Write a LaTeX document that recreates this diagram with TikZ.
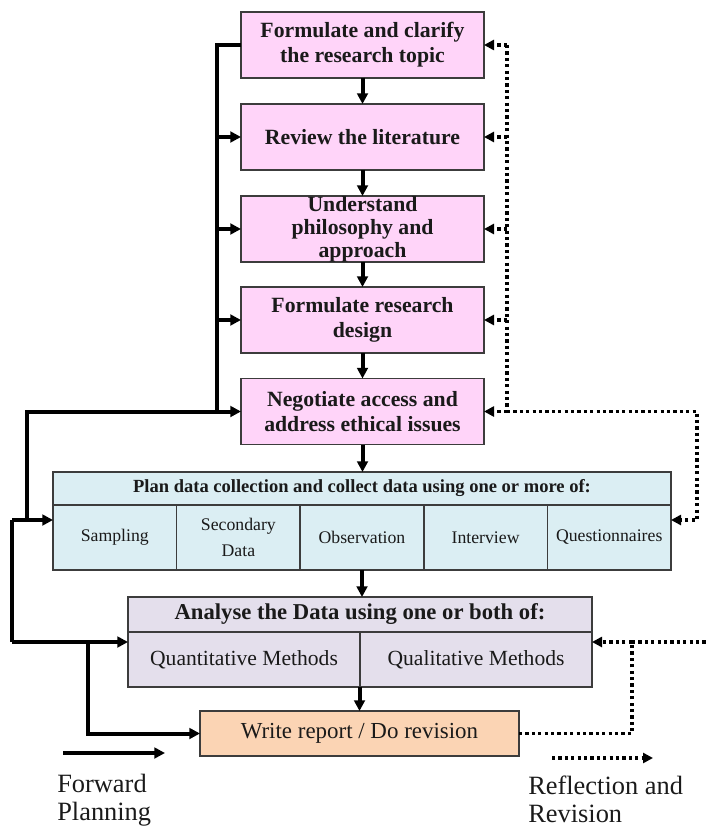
\documentclass[tikz,border=0pt]{standalone}
\usepackage{fontspec}
\setmainfont{Liberation Serif}
\usetikzlibrary{arrows.meta,positioning}
\definecolor{rschInk}{HTML}{1A1A1A}
\definecolor{rschLine}{HTML}{3C3C3C}
\definecolor{rschPink}{HTML}{FFD4F9}
\definecolor{rschBlue}{HTML}{DBEEF3}
\definecolor{rschLilac}{HTML}{E4DFEC}
\definecolor{rschPeach}{HTML}{FBD4B4}
\tikzset{
  every picture/.style={text=rschInk},
  rsch stage/.style={draw=rschLine, line width=1.1pt, fill=rschPink, align=center,
    minimum width=182.25pt, minimum height=49.5pt, inner sep=0pt, outer sep=0pt,
    font=\bfseries\fontsize{16.3}{18.6}\selectfont},
  rsch head/.style={draw=rschLine, line width=1.1pt, align=center,
    inner sep=0pt, outer sep=0pt},
  rsch cell/.style={draw=rschLine, line width=1.1pt, align=center,
    inner sep=0pt, outer sep=0pt},
  rsch forward/.style={draw=black, line width=3pt},
  rsch fwd arrow/.style={rsch forward, -{Triangle[length=8pt,width=8pt]}},
  rsch back/.style={draw=black, line width=2.8pt, dash pattern=on 2.4pt off 2.4pt},
  rsch back arrow/.style={rsch back, -{Triangle[length=7.5pt,width=7.5pt]}},
  rsch legend/.style={align=left, inner sep=0pt, anchor=north west,
    font=\fontsize{19.8}{21}\selectfont}
}

\begin{document}
\begin{tikzpicture}[x=0.75pt,y=-0.75pt]
  \useasboundingbox (0,0) rectangle (706,827);
  % research stages
  \node[rsch stage] (topic) at (362.5,45) {Formulate and clarify\\the research topic};
  \node[rsch stage] (lit) at (362.5,137) {Review the literature};
  \node[rsch stage, font=\bfseries\fontsize{16.3}{17.3}\selectfont] (phil) at (362.5,229) {Understand\\philosophy and\\approach};
  \node[rsch stage] (design) at (362.5,320) {Formulate research\\design};
  \node[rsch stage] (access) at (362.5,411.5) {Negotiate access and\\address ethical issues};
  % data collection
  \node[rsch head, fill=rschBlue, minimum width=463.5pt, minimum height=24.75pt,
    font=\bfseries\fontsize{13.9}{16}\selectfont] (plan) at (362,488.5)
    {Plan data collection and collect data using one or more of:};
  \tikzset{every node/.append style={rsch cell, fill=rschBlue, minimum width=92.7pt,
    minimum height=48.75pt, font=\fontsize{13.3}{20}\selectfont}}
  \node (samp) at (114.8,537.5) {Sampling};
  \node[right=0pt of samp] (secd) {Secondary\\Data};
  \node[right=0pt of secd] (obs) {Observation};
  \node[right=0pt of obs] (intv) {Interview};
  \node[right=0pt of intv] (quest) {Questionnaires};
  \tikzset{every node/.style={}}
  % analysis
  \node[rsch head, fill=rschLilac, minimum width=348pt, minimum height=26.25pt,
    font=\bfseries\fontsize{17}{19}\selectfont] (analyse) at (360,614.5)
    {Analyse the Data using one or both of:};
  \node[rsch cell, fill=rschLilac, minimum width=174pt, minimum height=41.25pt,
    font=\fontsize{16.2}{18}\selectfont] (quant) at (244,659.5) {Quantitative Methods};
  \node[rsch cell, fill=rschLilac, minimum width=174pt, minimum height=41.25pt,
    font=\fontsize{16.2}{18}\selectfont, right=0pt of quant] (qual) {Qualitative Methods};
  \node[rsch cell, fill=rschPeach, minimum width=239.25pt, minimum height=33.75pt,
    font=\fontsize{17.2}{19}\selectfont] (report) at (359.5,733.5) {Write report / Do revision};

  \coordinate (trunk) at (217,0);
  \coordinate (outer) at (27,0);
  \coordinate (planIn) at (12,520);
  \coordinate (anaIn) at (12,642);
  \coordinate (reportIn) at (88,0);
  \coordinate (backTrunk) at (507,0);
  \coordinate (backOuter) at (697,0);
  \coordinate (backLow) at (632,0);
  \coordinate (backEnd) at (706,642);

  % forward planning
  \foreach \a/\b in {topic/lit,lit/phil,phil/design,design/access}
    \draw[rsch fwd arrow] (\a) -- (\b);
  \draw[rsch fwd arrow] (access.south) -- (access.south |- plan.north);
  \draw[rsch fwd arrow] (obs.south) -- (obs.south |- analyse.north);
  \draw[rsch fwd arrow] (report.north |- quant.south) -- (report.north);
  \draw[rsch forward] (topic.west) -| (trunk |- access.west);
  \foreach \n in {lit,phil,design}
    \draw[rsch fwd arrow] (trunk |- \n.west) -- (\n.west);
  \draw[rsch fwd arrow] (outer |- planIn) |- (access.west);
  \draw[rsch forward] (planIn) -- (anaIn);
  \draw[rsch fwd arrow] (planIn) -- (planIn -| samp.west);
  \draw[rsch fwd arrow] (anaIn) -- (anaIn -| quant.west);
  \draw[rsch fwd arrow] (reportIn |- anaIn) |- (report.west);

  % reflection and revision
  \draw[rsch back] (backTrunk |- topic.east) -- (backTrunk |- access.east);
  \foreach \n in {topic,lit,phil,design,access}
    \draw[rsch back arrow] (backTrunk |- \n.east) -- (\n.east);
  \draw[rsch back arrow] (backTrunk |- access.east) -| (backOuter |- planIn) -- (planIn -| quest.east);
  \draw[rsch back arrow] (report.east) -| (backLow |- anaIn) -- (anaIn -| qual.east);
  \draw[rsch back] (backLow |- anaIn) -- (backEnd);

  % key
  \coordinate (fwdKeyA) at (63,753);
  \coordinate (fwdKeyB) at (165,753);
  \coordinate (backKeyA) at (552,758);
  \coordinate (backKeyB) at (653,758);
  \draw[rsch fwd arrow] (fwdKeyA) -- (fwdKeyB);
  \draw[rsch back arrow] (backKeyA) -- (backKeyB);
  \node[rsch legend] (fwdKey) at (57,774) {Forward\\Planning};
  \node[rsch legend] (backKey) at (528,776) {Reflection and\\Revision};
\end{tikzpicture}
\end{document}
